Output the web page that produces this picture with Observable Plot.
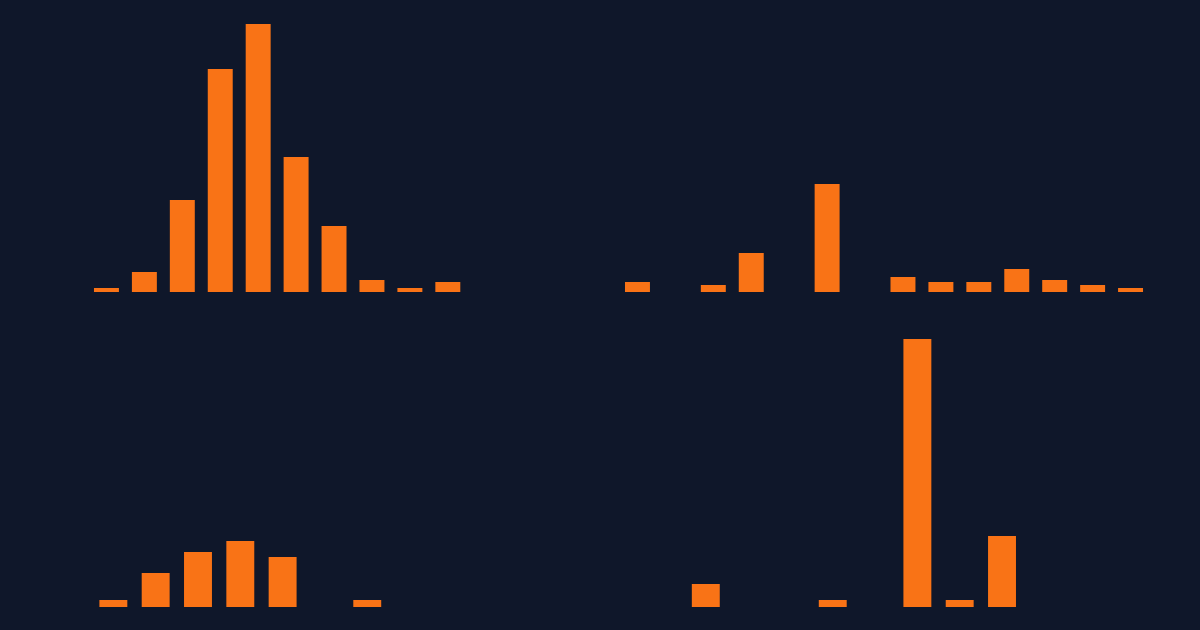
<!DOCTYPE html>
<html>
<head>
<meta charset="utf-8">
<script src="https://cdn.jsdelivr.net/npm/d3@7"></script>
<script src="https://cdn.jsdelivr.net/npm/@observablehq/plot@0.6"></script>
<style>
  html, body { margin: 0; padding: 0; background: #0f172a; width: 1200px; height: 630px; overflow: hidden; }
  #top, #bottom { width: 1200px; height: 315px; }
  svg { display: block; }
</style>
</head>
<body>
<div id="top"></div>
<div id="bottom"></div>
<script>
// Top row: 28 slots (left group 0-13, right group 14-27)
const topSlots = d3.range(28).map(String);
const topValues = [4, 20, 92, 223, 268, 135, 66, 12, 4, 10, 0, 0, 0, 0,
                   10, 0, 7, 39, 0, 108, 0, 15, 10, 10, 23, 12, 7, 4];
// Bottom row: 24 slots
const bottomSlots = d3.range(24).map(String);
const bottomValues = [7, 34, 55, 66, 50, 0, 7, 0, 0, 0, 0, 0, 0, 0,
                      23, 0, 0, 7, 0, 268, 7, 71, 0, 0];

const barColor = "#f97316";

function row(slots, values, opts) {
  const data = slots.map((k, i) => ({k, v: values[i]}));
  return Plot.plot({
    width: 1200,
    height: 315,
    marginTop: 24,
    marginBottom: 23,
    marginLeft: opts.ml,
    marginRight: opts.mr,
    style: {background: "transparent"},
    x: {type: "band", domain: slots, padding: opts.padding, round: false, axis: null},
    y: {domain: [0, d3.max(values)], axis: null},
    marks: [
      Plot.barY(data.filter(d => d.v > 0), {x: "k", y: "v", fill: barColor})
    ]
  });
}

document.getElementById("top").append(row(topSlots, topValues, {ml: 81, mr: 44, padding: 0.342}));
document.getElementById("bottom").append(row(bottomSlots, bottomValues, {ml: 85, mr: 85, padding: 0.34}));
</script>
</body>
</html>
